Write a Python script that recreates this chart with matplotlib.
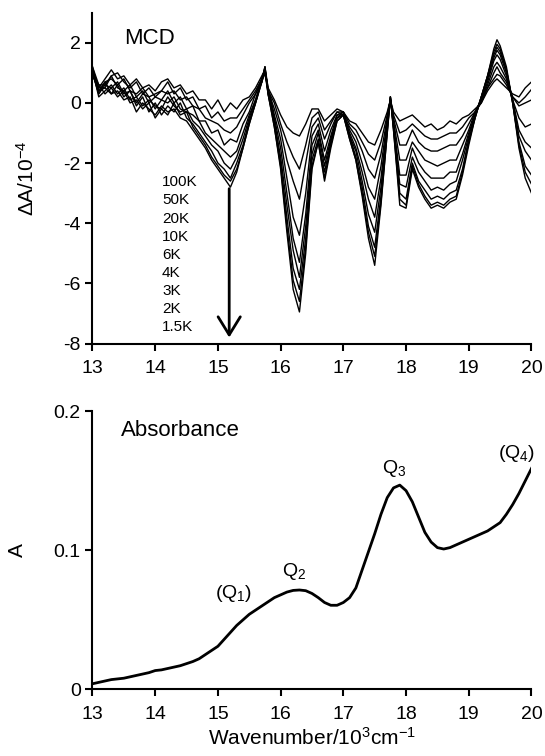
import numpy as np
import matplotlib
matplotlib.use("Agg")
import matplotlib.pyplot as plt

plt.rcParams['font.family'] = ['Liberation Sans', 'DejaVu Sans']
plt.rcParams['mathtext.fontset'] = 'custom'
plt.rcParams['mathtext.rm'] = 'Liberation Sans'
plt.rcParams['mathtext.it'] = 'Liberation Sans:italic'
plt.rcParams['mathtext.default'] = 'regular'
plt.rcParams['axes.unicode_minus'] = False

# MCD spectra (wavenumber in 10^3 cm-1, dA in 1e-4)
wn = [13.0, 13.1, 13.2, 13.3, 13.4, 13.5, 13.6, 13.7, 13.8, 13.9,
      14.0, 14.1, 14.2, 14.3, 14.4, 14.5, 14.6, 14.7, 14.8, 14.9,
      15.0, 15.1, 15.2, 15.3, 15.4, 15.5, 15.6, 15.7, 15.75, 15.8, 15.9,
      16.0, 16.1, 16.2, 16.3, 16.4, 16.5, 16.6, 16.7, 16.8, 16.9,
      17.0, 17.1, 17.2, 17.3, 17.4, 17.5, 17.6, 17.7, 17.75, 17.8, 17.9,
      18.0, 18.1, 18.2, 18.3, 18.4, 18.5, 18.6, 18.7, 18.8, 18.9,
      19.0, 19.1, 19.2, 19.3, 19.4, 19.45, 19.5, 19.6, 19.7, 19.8, 19.9, 20.0]

mcd_100K = [0.9, 0.5, 0.8, 1.1, 0.8, 0.9, 0.6, 0.8, 0.5, 0.6,
            0.4, 0.7, 0.8, 0.5, 0.6, 0.3, 0.4, 0.1, 0.1, -0.2,
            0.1, -0.3, 0.0, -0.2, 0.1, 0.2, 0.5, 0.9, 1.1, 0.5, 0.1,
            -0.4, -0.8, -1.0, -1.1, -0.7, -0.2, -0.2, -0.6, -0.4, -0.2,
            -0.3, -0.6, -0.7, -1.0, -1.3, -1.4, -0.9, -0.3, 0.1, -0.3, -0.6,
            -0.5, -0.4, -0.6, -0.8, -0.7, -0.9, -0.8, -0.6, -0.7, -0.5,
            -0.4, -0.2, 0.0, 0.4, 0.7, 0.8, 0.7, 0.5, 0.3, 0.2, 0.5, 0.7]
mcd_50K = [1.0, 0.6, 0.6, 0.9, 1.0, 0.7, 0.5, 0.7, 0.3, 0.5,
           0.2, 0.4, 0.7, 0.3, 0.5, 0.1, 0.2, -0.2, -0.1, -0.5,
           -0.3, -0.6, -0.5, -0.5, -0.2, 0.1, 0.4, 0.8, 1.0, 0.4, 0.0,
           -0.7, -1.3, -1.8, -2.2, -1.4, -0.5, -0.3, -0.9, -0.6, -0.3,
           -0.3, -0.7, -0.9, -1.3, -1.7, -1.9, -1.3, -0.4, 0.1, -0.4, -1.0,
           -0.9, -0.7, -0.9, -1.1, -1.2, -1.2, -1.1, -1.0, -1.0, -0.8,
           -0.5, -0.3, 0.0, 0.5, 0.8, 0.95, 0.9, 0.6, 0.2, 0.0, 0.2, 0.45]
mcd_20K = [1.0, 0.3, 0.7, 0.8, 0.6, 0.8, 0.4, 0.3, 0.5, 0.2,
           0.3, 0.4, 0.3, 0.4, 0.1, 0.2, -0.1, -0.2, -0.5, -0.6,
           -0.7, -0.9, -1.0, -0.8, -0.4, 0.0, 0.3, 0.8, 1.1, 0.4, -0.2,
           -0.9, -1.9, -2.6, -3.2, -2.0, -0.8, -0.5, -1.2, -0.7, -0.3,
           -0.4, -0.8, -1.1, -1.6, -2.2, -2.5, -1.7, -0.5, 0.1, -0.5, -1.4,
           -1.4, -0.9, -1.3, -1.5, -1.6, -1.6, -1.5, -1.4, -1.4, -1.1,
           -0.7, -0.3, 0.1, 0.5, 1.0, 1.2, 1.0, 0.7, 0.2, -0.1, 0.0, 0.1]
mcd_10K = [1.1, 0.5, 0.5, 0.9, 0.5, 0.4, 0.6, 0.2, 0.4, 0.0,
           0.2, 0.1, 0.4, 0.0, 0.2, -0.2, -0.1, -0.6, -0.6, -1.0,
           -0.9, -1.4, -1.2, -1.3, -0.7, -0.3, 0.3, 0.7, 1.2, 0.5, -0.4,
           -1.2, -2.5, -3.8, -4.4, -3.0, -1.1, -0.7, -1.6, -0.9, -0.4,
           -0.3, -0.9, -1.3, -2.0, -2.8, -3.2, -2.1, -0.6, 0.15, -0.6, -1.9,
           -1.9, -1.3, -1.6, -1.9, -2.0, -2.1, -2.0, -1.9, -1.9, -1.4,
           -0.9, -0.3, 0.1, 0.6, 1.2, 1.35, 1.2, 0.8, 0.1, -0.5, -0.8, -0.7]
mcd_6K = [1.0, 0.3, 0.6, 0.5, 0.7, 0.3, 0.4, 0.0, 0.3, 0.2,
          -0.2, 0.1, 0.0, 0.2, -0.2, -0.3, -0.4, -0.6, -1.0, -1.2,
          -1.4, -1.6, -1.8, -1.6, -1.0, -0.4, 0.1, 0.8, 1.15, 0.4, -0.5,
          -1.5, -3.0, -4.5, -5.3, -3.7, -1.4, -0.9, -1.9, -1.1, -0.4,
          -0.4, -1.0, -1.5, -2.3, -3.2, -3.8, -2.5, -0.7, 0.15, -0.7, -2.4,
          -2.4, -1.5, -2.0, -2.3, -2.5, -2.5, -2.5, -2.3, -2.3, -1.7,
          -1.0, -0.4, 0.1, 0.7, 1.4, 1.6, 1.45, 0.9, 0.1, -0.9, -1.3, -1.5]
mcd_4K = [1.1, 0.2, 0.4, 0.6, 0.3, 0.5, 0.1, 0.2, -0.1, 0.1,
          -0.1, -0.2, 0.2, -0.1, -0.3, -0.2, -0.6, -0.8, -1.1, -1.4,
          -1.6, -2.0, -2.2, -1.8, -1.2, -0.5, 0.1, 0.7, 1.2, 0.3, -0.6,
          -1.8, -3.4, -4.9, -5.8, -4.1, -1.7, -1.0, -2.1, -1.2, -0.5,
          -0.3, -1.1, -1.6, -2.6, -3.7, -4.3, -2.8, -0.8, 0.2, -0.8, -2.7,
          -2.8, -1.8, -2.3, -2.6, -2.9, -2.8, -2.9, -2.7, -2.6, -1.9,
          -1.1, -0.4, 0.2, 0.8, 1.5, 1.75, 1.6, 1.0, 0.1, -1.1, -1.6, -1.9]
mcd_3K = [1.0, 0.4, 0.7, 0.3, 0.6, 0.2, 0.4, -0.1, 0.2, -0.3,
          0.0, -0.4, -0.1, -0.3, 0.0, -0.5, -0.7, -1.0, -1.3, -1.6,
          -2.0, -2.2, -2.5, -2.0, -1.4, -0.6, 0.0, 0.8, 1.1, 0.4, -0.7,
          -2.0, -3.8, -5.5, -6.2, -4.5, -1.9, -1.2, -2.3, -1.3, -0.5,
          -0.4, -1.1, -1.8, -2.8, -4.1, -4.8, -3.1, -0.9, 0.2, -0.8, -3.0,
          -3.2, -2.0, -2.6, -2.9, -3.2, -3.1, -3.2, -3.0, -2.9, -2.2,
          -1.2, -0.5, 0.2, 0.9, 1.6, 1.85, 1.7, 1.1, 0.0, -1.3, -2.1, -2.4]
mcd_2K = [1.2, 0.6, 0.3, 0.5, 0.2, 0.4, 0.0, 0.1, -0.2, 0.0,
          -0.5, -0.2, -0.4, 0.0, -0.4, -0.3, -0.8, -1.1, -1.4, -1.8,
          -2.1, -2.4, -2.6, -2.2, -1.5, -0.7, 0.0, 0.7, 1.0, 0.3, -0.8,
          -2.1, -4.1, -5.9, -6.6, -4.8, -2.1, -1.3, -2.5, -1.4, -0.6,
          -0.4, -1.2, -1.9, -3.0, -4.3, -5.1, -3.3, -1.0, 0.2, -0.9, -3.2,
          -3.4, -2.1, -2.7, -3.1, -3.4, -3.3, -3.4, -3.2, -3.1, -2.3,
          -1.3, -0.5, 0.2, 0.9, 1.7, 1.95, 1.8, 1.1, 0.0, -1.4, -2.3, -2.7]
mcd_1p5K = [1.2, 0.4, 0.5, 0.3, 0.4, 0.1, 0.2, -0.3, 0.0, -0.2,
            -0.4, -0.1, -0.3, -0.2, -0.5, -0.6, -0.9, -1.2, -1.5, -1.9,
            -2.2, -2.5, -2.8, -2.3, -1.5, -0.7, 0.0, 0.7, 1.2, 0.3, -0.8,
            -2.2, -4.3, -6.2, -6.95, -5.0, -2.2, -1.3, -2.6, -1.5, -0.6,
            -0.4, -1.2, -1.9, -3.1, -4.5, -5.4, -3.4, -1.0, 0.2, -0.9, -3.4,
            -3.5, -2.2, -2.8, -3.2, -3.5, -3.4, -3.5, -3.3, -3.2, -2.4,
            -1.4, -0.5, 0.2, 0.9, 1.8, 2.1, 1.9, 1.2, 0.0, -1.5, -2.5, -3.0]

temps = ['100K', '50K', '20K', '10K', '6K', '4K', '3K', '2K', '1.5K']
mcd_all = [mcd_100K, mcd_50K, mcd_20K, mcd_10K, mcd_6K, mcd_4K, mcd_3K, mcd_2K, mcd_1p5K]

# absorbance
wn_abs = [13.0, 13.1, 13.2, 13.3, 13.4, 13.5, 13.6, 13.7, 13.8, 13.9,
          14.0, 14.1, 14.2, 14.3, 14.4, 14.5, 14.6, 14.7, 14.8, 14.9,
          15.0, 15.1, 15.2, 15.3, 15.4, 15.5, 15.6, 15.7, 15.8, 15.9,
          16.0, 16.1, 16.2, 16.3, 16.4, 16.5, 16.6, 16.7, 16.8, 16.9,
          17.0, 17.1, 17.2, 17.3, 17.4, 17.5, 17.6, 17.7, 17.8, 17.9,
          18.0, 18.1, 18.2, 18.3, 18.4, 18.5, 18.6, 18.7, 18.8, 18.9,
          19.0, 19.1, 19.2, 19.3, 19.4, 19.5, 19.6, 19.7, 19.8, 19.9, 20.0]
absorb = [0.004, 0.005, 0.006, 0.007, 0.0075, 0.008, 0.009, 0.010, 0.011, 0.012,
          0.0135, 0.014, 0.015, 0.016, 0.017, 0.0185, 0.020, 0.022, 0.025, 0.028,
          0.031, 0.036, 0.041, 0.046, 0.050, 0.054, 0.057, 0.060, 0.063, 0.066,
          0.068, 0.070, 0.0712, 0.0715, 0.071, 0.069, 0.066, 0.0625, 0.0605, 0.0605,
          0.0625, 0.066, 0.073, 0.086, 0.099, 0.112, 0.126, 0.138, 0.145, 0.147,
          0.143, 0.135, 0.124, 0.113, 0.106, 0.102, 0.101, 0.102, 0.104, 0.106,
          0.108, 0.110, 0.112, 0.114, 0.117, 0.120, 0.126, 0.133, 0.141, 0.150, 0.159]

q_labels = ['(Q$_1$)', 'Q$_2$', 'Q$_3$', '(Q$_4$)']
q_x = [15.25, 16.21, 17.81, 19.77]
q_y = [0.069, 0.0845, 0.159, 0.170]

fig = plt.figure(figsize=(5.45, 7.56), dpi=100)
ax1 = fig.add_axes([0.1697, 0.5456, 0.8055, 0.4376])
ax2 = fig.add_axes([0.1697, 0.0882, 0.8055, 0.3675])

for ax in (ax1, ax2):
    for s in ('top', 'right'):
        ax.spines[s].set_visible(False)
    for s in ('left', 'bottom'):
        ax.spines[s].set_linewidth(1.5)
    ax.tick_params(direction='out', width=1.5, length=5, labelsize=14)
    ax.tick_params(axis='x', pad=7)
    ax.set_xlim(13, 20)
    ax.set_xticks(range(13, 21))

# top: MCD
for y in mcd_all:
    ax1.plot(wn, y, color='black', lw=1.0)
ax1.set_ylim(-8, 3)
ax1.set_yticks([-8, -6, -4, -2, 0, 2])
ax1.set_ylabel('ΔA/10$^{-4}$', fontsize=15)
ax1.yaxis.set_label_coords(-0.125, 0.5)
ax1.text(13.5, 2.15, 'MCD', fontsize=16, va='center', ha='left')
for i, t in enumerate(temps):
    ax1.text(14.11, -2.64 - 0.603 * i, t, fontsize=11, va='center', ha='left')
ax1.annotate('', xy=(15.18, -7.8), xytext=(15.18, -2.85),
             arrowprops=dict(arrowstyle='->,head_length=0.65,head_width=0.4',
                             lw=2, color='black', mutation_scale=20,
                             shrinkA=0, shrinkB=0))

# bottom: absorbance
ax2.plot(wn_abs, absorb, color='black', lw=2)
ax2.set_ylim(0, 0.2)
ax2.set_yticks([0, 0.1, 0.2])
ax2.set_yticklabels(['0', '0.1', '0.2'])
ax2.set_ylabel('A', fontsize=15)
ax2.yaxis.set_label_coords(-0.15, 0.5)
ax2.set_xlabel('Wavenumber/10$^3$cm$^{-1}$', fontsize=15, labelpad=3)
ax2.text(13.45, 0.186, 'Absorbance', fontsize=16, va='center', ha='left')
for lab, qx, qy in zip(q_labels, q_x, q_y):
    ax2.text(qx, qy, lab, fontsize=14, ha='center', va='center')

fig.savefig('out.png', dpi=100)
